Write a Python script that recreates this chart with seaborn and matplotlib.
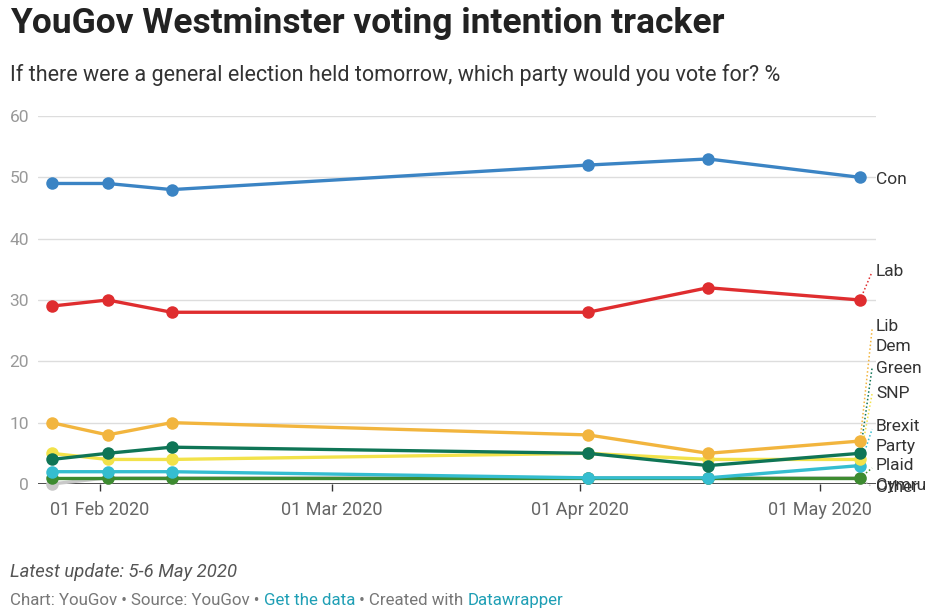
import matplotlib
matplotlib.use("Agg")
import matplotlib.pyplot as plt
import matplotlib.dates as mdates
import seaborn as sns
import pandas as pd
import numpy as np

dates = ["2020-01-26", "2020-02-02", "2020-02-10", "2020-04-02", "2020-04-17", "2020-05-06"]
con = [49, 49, 48, 52, 53, 50]
lab = [29, 30, 28, 28, 32, 30]
libdem = [10, 8, 10, 8, 5, 7]
green = [4, 5, 6, 5, 3, 5]
snp = [5, 4, 4, 5, 4, 4]
brexit = [2, 2, 2, 1, 1, 3]
plaid = [1, 1, 1, 1, 1, 1]
other = [0, 1, 1, 1, 1, 1]

parties = ["Other", "Plaid Cymru", "Brexit Party", "SNP", "Green", "Lib Dem", "Lab", "Con"]
series = [other, plaid, brexit, snp, green, libdem, lab, con]
colors = {"Con": "#3b84c4", "Lab": "#df2d2f", "Lib Dem": "#f2b53e", "Green": "#0f7556",
          "SNP": "#f2e24a", "Brexit Party": "#35bdd0", "Plaid Cymru": "#3d8b30", "Other": "#c8c8c8"}
label_text = {"Con": "Con", "Lab": "Lab", "Lib Dem": "Lib\nDem", "Green": "Green", "SNP": "SNP",
              "Brexit Party": "Brexit\nParty", "Plaid Cymru": "Plaid\nCymru", "Other": "Other"}
label_y = {"Con": 49.6, "Lab": 34.6, "Lib Dem": 24.0, "Green": 18.9, "SNP": 14.7,
           "Brexit Party": 7.75, "Plaid Cymru": 1.4, "Other": -0.5}

rows = []
for p, vals in zip(parties, series):
    for d, v in zip(dates, vals):
        rows.append({"date": pd.Timestamp(d), "party": p, "value": v})
df = pd.DataFrame(rows)

sns.set_theme(style="white")
plt.rcParams["font.family"] = ["Roboto", "DejaVu Sans"]

fig = plt.figure(figsize=(9.39, 6.09), dpi=100)
ax = fig.add_axes([0.040, 0.2053, 0.893, 0.6042])

sns.lineplot(data=df, x="date", y="value", hue="party", hue_order=parties, palette=colors,
             marker="o", markersize=9, markeredgewidth=0, linewidth=2.4, legend=False, ax=ax,
             clip_on=False)

ax.set_ylim(0, 60)
ax.set_xlim(pd.Timestamp("2020-01-24 06:00"), pd.Timestamp("2020-05-08"))
ax.set_yticks([0, 10, 20, 30, 40, 50, 60])
ax.yaxis.grid(True, color="#dddddd", linewidth=1)
ax.set_axisbelow(True)
for s in ax.spines.values():
    s.set_visible(False)
ax.axhline(0, color="#333333", linewidth=1.2, zorder=1.5)
ax.set_xlabel("")
ax.set_ylabel("")
ax.xaxis.set_major_locator(mdates.MonthLocator(bymonthday=1))
ax.xaxis.set_major_formatter(mdates.DateFormatter("%d %b %Y"))
ax.tick_params(axis="x", length=5, width=1, color="#333333", bottom=True, labelsize=13,
               labelcolor="#666666", pad=7)
ax.tick_params(axis="y", length=0, labelsize=12.5, labelcolor="#999999", pad=6)
for t in ax.get_yticklabels():
    t.set_horizontalalignment("right")

# right labels with dotted connectors
last_date = pd.Timestamp(dates[-1])
lab_x = pd.Timestamp("2020-05-08")
for p, vals in zip(parties, series):
    ly = label_y[p]
    if p != "Con":
        ax.plot([last_date, lab_x - pd.Timedelta(hours=12)], [vals[-1], ly + (1.2 if "\n" in label_text[p] else 0)],
                linestyle=(0, (1, 1.5)), color=colors[p], linewidth=1.1, clip_on=False, zorder=1.8)
    ax.text(lab_x, ly, label_text[p], fontsize=12.5, color="#333333", va="center", ha="left",
            linespacing=1.4, clip_on=False)

fig.text(0.011, 0.962, "YouGov Westminster voting intention tracker", fontsize=25.5, fontweight="bold",
         color="#222222", va="center", ha="left")
fig.text(0.011, 0.877, "If there were a general election held tomorrow, which party would you vote for? %",
         fontsize=15.5, color="#333333", va="center", ha="left")
fig.text(0.011, 0.060, "Latest update: 5-6 May 2020", fontsize=13.3, style="italic",
         color="#555555", va="center", ha="left")

# footer with coloured parts
parts = [("Chart: YouGov \u2022 Source: YouGov \u2022 ", "#777777"), ("Get the data", "#1f9fb5"),
         (" \u2022 Created with ", "#777777"), ("Datawrapper", "#1f9fb5")]
fig.canvas.draw()
renderer = fig.canvas.get_renderer()
x = 0.011
for txt, col in parts:
    t = fig.text(x, 0.014, txt, fontsize=12.2, color=col, va="center", ha="left")
    bb = t.get_window_extent(renderer=renderer)
    x += bb.width / fig.bbox.width

fig.savefig("out.png", dpi=100)
